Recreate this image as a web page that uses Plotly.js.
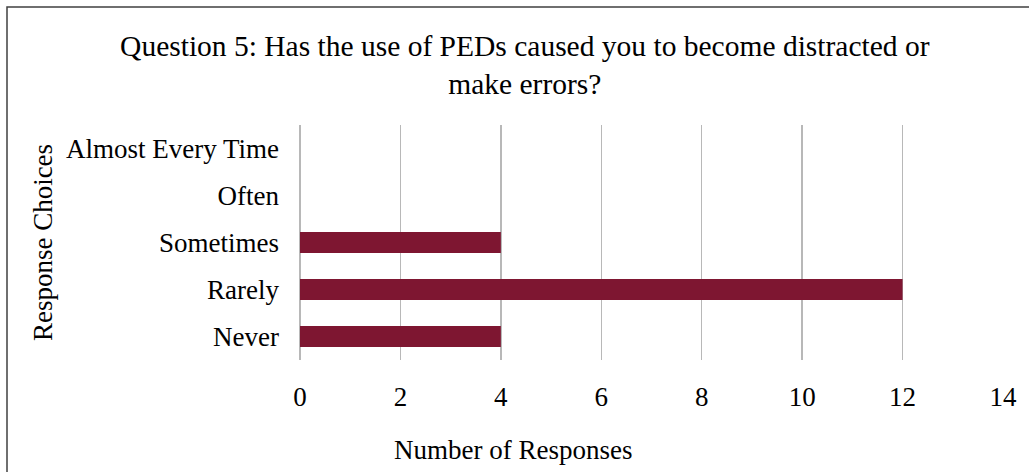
<!DOCTYPE html>
<html>
<head>
<meta charset="utf-8">
<script src="https://cdn.plot.ly/plotly-3.0.1.min.js"></script>
<style>
html, body { margin: 0; padding: 0; background: #ffffff; }
#chart { width: 1029px; height: 472px; }
</style>
</head>
<body>
<div id="chart"></div>
<script>
const categories = ["Never", "Rarely", "Sometimes", "Often", "Almost Every Time"];
const responses = [4, 12, 4, 0, 0];
const xTicks = [0, 2, 4, 6, 8, 10, 12, 14];

const chartTitle = "Question 5: Has the use of PEDs caused you to become distracted or<br>make errors?";
const xTitle = "Number of Responses";
const yTitle = "Response Choices";

const FONT = '"Liberation Serif", "Times New Roman", Times, serif';

const trace = {
  type: "bar",
  orientation: "h",
  x: responses,
  y: categories,
  marker: { color: "#7E1631" },
  hoverinfo: "x+y"
};

const layout = {
  width: 1029,
  height: 472,
  margin: { l: 300, r: 26, t: 125, b: 112, pad: 0 },
  paper_bgcolor: "#ffffff",
  plot_bgcolor: "#ffffff",
  font: { family: FONT, size: 27, color: "#000000" },
  showlegend: false,
  bargap: 0.55,
  title: {
    text: chartTitle,
    font: { family: FONT, size: 29.5, color: "#000000" },
    x: 0.51,
    xref: "container",
    xanchor: "center",
    y: 0.882,
    yref: "container",
    yanchor: "top"
  },
  xaxis: {
    range: [0, 14],
    tickvals: xTicks,
    ticktext: xTicks.map(String),
    showgrid: true,
    gridcolor: "#B8B8B8",
    gridwidth: 1.3,
    zeroline: true,
    zerolinecolor: "#B8B8B8",
    zerolinewidth: 1.3,
    showline: false,
    ticks: "",
    ticklabelstandoff: 18,
    tickfont: { family: FONT, size: 27, color: "#000000" },
    fixedrange: true
  },
  yaxis: {
    type: "category",
    categoryorder: "array",
    categoryarray: categories,
    showgrid: false,
    zeroline: false,
    showline: false,
    ticks: "",
    ticklabelstandoff: 20,
    tickfont: { family: FONT, size: 27, color: "#000000" },
    title: { text: yTitle, font: { family: FONT, size: 27, color: "#000000" }, standoff: 5 },
    fixedrange: true
  },
  annotations: [{
    text: xTitle,
    xref: "paper",
    yref: "paper",
    x: (513 - 300) / 703,
    y: (360 - 467) / 235,
    xanchor: "center",
    yanchor: "bottom",
    showarrow: false,
    font: { family: FONT, size: 27, color: "#000000" }
  }],
  shapes: [{
    type: "rect",
    xref: "paper",
    yref: "paper",
    x0: (7 - 300) / 703,
    x1: 2,
    y0: -2,
    y1: (360 - 7) / 235,
    line: { color: "#404040", width: 1.5 },
    fillcolor: "rgba(0,0,0,0)",
    layer: "above"
  }]
};

Plotly.newPlot("chart", [trace], layout, { displayModeBar: false, staticPlot: true });
</script>
</body>
</html>
